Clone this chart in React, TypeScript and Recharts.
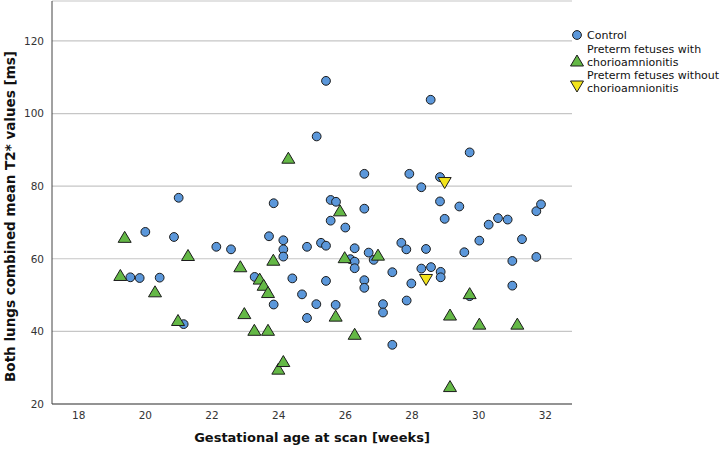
import React from "react";
import { ScatterChart, Scatter, XAxis, YAxis, CartesianGrid } from "recharts";

// Control group
const controlAge = [
  19.55, 19.83, 20.0, 20.43, 20.86, 21.0, 21.15, 22.13, 22.57, 23.28, 23.71, 23.85, 23.85, 24.14, 24.14, 24.14,
  24.41, 24.7, 24.85, 24.85, 25.13, 25.14, 25.27, 25.42, 25.42, 25.42, 25.56, 25.56, 25.71, 25.72, 26.0, 26.15,
  26.28, 26.28, 26.28, 26.57, 26.57, 26.57, 26.57, 26.7, 26.85, 27.13, 27.13, 27.41, 27.41, 27.68, 27.83, 27.84,
  27.92, 27.98, 28.28, 28.28, 28.42, 28.56, 28.57, 28.84, 28.84, 28.86, 28.86, 28.98, 29.42, 29.57, 29.73, 29.73,
  30.02, 30.3, 30.58, 30.87, 31.01, 31.01, 31.3, 31.73, 31.73, 31.87,
];
const controlT2 = [
  54.9, 54.7, 67.4, 54.8, 66.0, 76.8, 42.0, 63.3, 62.6, 55.0, 66.2, 75.3, 47.4, 65.1, 62.6, 60.6,
  54.6, 50.2, 63.3, 43.7, 47.5, 93.7, 64.4, 63.6, 53.9, 109.0, 76.2, 70.5, 47.3, 75.7, 68.6, 59.9,
  62.9, 59.2, 57.4, 83.4, 73.8, 54.1, 52.0, 61.7, 59.7, 47.5, 45.2, 56.3, 36.3, 64.4, 62.6, 48.5,
  83.4, 53.2, 79.7, 57.3, 62.7, 103.8, 57.7, 82.5, 75.8, 56.4, 54.9, 71.0, 74.4, 61.8, 89.3, 49.7,
  65.0, 69.4, 71.2, 70.8, 59.4, 52.6, 65.4, 73.1, 60.5, 75.0,
];

// Preterm fetuses with chorioamnionitis
const chorioAge = [
  19.25, 19.38, 20.29, 20.98, 21.28, 22.85, 22.97, 23.27, 23.43, 23.55, 23.68, 23.68, 23.84, 23.99, 24.14, 24.29,
  25.71, 25.84, 25.98, 26.28, 26.98, 29.14, 29.14, 29.73, 30.02, 31.16,
];
const chorioT2 = [
  55.4, 65.9, 50.9, 43.0, 60.9, 57.8, 44.9, 40.3, 54.4, 52.7, 50.7, 40.3, 59.6, 29.6, 31.7, 87.7,
  44.2, 73.2, 60.3, 39.2, 61.0, 44.5, 24.8, 50.4, 42.0, 42.0,
];

// Preterm fetuses without chorioamnionitis
const noChorioAge = [28.42, 28.98];
const noChorioT2 = [54.3, 81.0];

const xTicks = [18, 20, 22, 24, 26, 28, 30, 32];
const yTicks = [20, 40, 60, 80, 100, 120];

const toPoints = (xs: number[], ys: number[]) => xs.map((x, i) => ({ age: x, t2: ys[i] }));

const FONT = "'DejaVu Sans', sans-serif";
const BLUE = "#5b97da";
const GREEN = "#64b846";
const YELLOW = "#f3e41c";
const EDGE = "#1c1c1c";

const CircleDot = (props: any) => (
  <circle cx={props.cx} cy={props.cy} r={4.4} fill={BLUE} stroke={EDGE} strokeWidth={1} />
);

const TriUp = (props: any) => {
  const { cx, cy } = props;
  return (
    <polygon
      points={`${cx},${cy - 6} ${cx + 6.5},${cy + 5} ${cx - 6.5},${cy + 5}`}
      fill={GREEN}
      stroke={EDGE}
      strokeWidth={1}
    />
  );
};

const TriDown = (props: any) => {
  const { cx, cy } = props;
  return (
    <polygon
      points={`${cx - 6.5},${cy - 5} ${cx + 6.5},${cy - 5} ${cx},${cy + 6}`}
      fill={YELLOW}
      stroke={EDGE}
      strokeWidth={1}
    />
  );
};

const YLabel = (props: any) => {
  const vb = props.viewBox || { x: 0, y: 0, height: 0 };
  const cx = 10;
  const cy = vb.y + vb.height / 2 + 14;
  return (
    <text
      x={cx}
      y={cy}
      transform={`rotate(-90, ${cx}, ${cy})`}
      textAnchor="middle"
      dominantBaseline="central"
      fontFamily={FONT}
      fontWeight="bold"
      fontSize={13.5}
      fill="#111"
    >
      Both lungs combined mean T2* values [ms]
    </text>
  );
};

const XLabel = (props: any) => {
  const vb = props.viewBox || { x: 0, y: 0, width: 0 };
  return (
    <text
      x={vb.x + vb.width / 2}
      y={437}
      textAnchor="middle"
      dominantBaseline="central"
      fontFamily={FONT}
      fontWeight="bold"
      fontSize={13}
      fill="#111"
    >
      Gestational age at scan [weeks]
    </text>
  );
};

const LegendBox = () => (
  <svg width={155} height={100} style={{ position: "absolute", left: 570, top: 0 }}>
    <g fontFamily={FONT} fontSize={11} fill="#111">
      <CircleDot cx={7} cy={35} />
      <text x={17} y={35} dominantBaseline="central">Control</text>
      <TriUp cx={7} cy={61} />
      <text x={17} y={49} dominantBaseline="central">Preterm fetuses with</text>
      <text x={17} y={62} dominantBaseline="central">chorioamnionitis</text>
      <TriDown cx={7} cy={86} />
      <text x={17} y={75} dominantBaseline="central">Preterm fetuses without</text>
      <text x={17} y={88} dominantBaseline="central">chorioamnionitis</text>
    </g>
  </svg>
);

const App = () => {
  const tickStyle = { fontFamily: FONT, fontSize: 10.5, fill: "#333" };
  return (
    <div style={{ position: "absolute", left: 0, top: 0, width: 725, height: 451, background: "#fff" }}>
      <ScatterChart width={725} height={451} margin={{ top: 1, right: 153, bottom: 0, left: 0 }}>
        <CartesianGrid horizontal={true} vertical={false} stroke="#c6c6c6" strokeWidth={1.2} />
        <XAxis
          type="number"
          dataKey="age"
          domain={[17.2, 32.8]}
          ticks={xTicks}
          height={47}
          tickLine={false}
          axisLine={{ stroke: "#444" }}
          tick={tickStyle}
          allowDataOverflow
          label={<XLabel />}
        />
        <YAxis
          type="number"
          dataKey="t2"
          domain={[20, 131]}
          ticks={yTicks}
          width={52}
          tickLine={false}
          tickMargin={2}
          axisLine={{ stroke: "#444" }}
          tick={tickStyle}
          allowDataOverflow
          label={<YLabel />}
        />
        <Scatter data={toPoints(controlAge, controlT2)} shape={CircleDot} isAnimationActive={false} />
        <Scatter data={toPoints(chorioAge, chorioT2)} shape={TriUp} isAnimationActive={false} />
        <Scatter data={toPoints(noChorioAge, noChorioT2)} shape={TriDown} isAnimationActive={false} />
      </ScatterChart>
      <LegendBox />
    </div>
  );
};

export default App;
